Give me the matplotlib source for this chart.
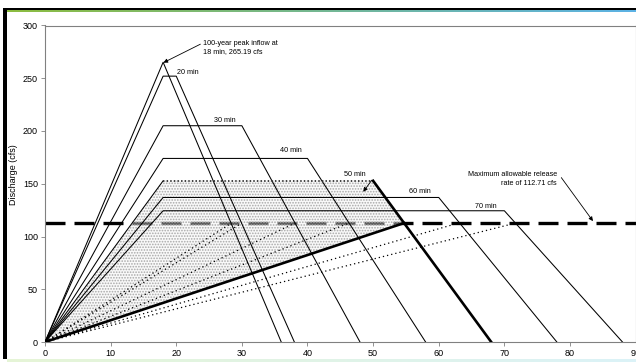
import matplotlib
matplotlib.use("Agg")
import matplotlib.pyplot as plt
import numpy as np
from matplotlib.patches import Rectangle, Polygon

plt.rcParams['font.family'] = ['Liberation Sans', 'DejaVu Sans']
plt.rcParams['hatch.linewidth'] = 0.8

# Storm hydrographs (rational method), time of concentration = 18 min
tc = 18.0
labels = ["inflow", "20 min", "30 min", "40 min", "50 min", "60 min", "70 min"]
durations = [18.0, 20.0, 30.0, 40.0, 50.0, 60.0, 70.0]
peaks = [265.19, 252.0, 205.0, 174.0, 152.8, 137.0, 124.4]
# Times at which each recession limb drops to the allowable release rate
release_times = [28.4, 30.0, 38.1, 46.3, 54.7, 63.0, 71.7]
release_rate = 112.71
critical = "50 min"

fig = plt.figure(figsize=(6.36, 3.62), dpi=100)
ax = fig.add_axes([45 / 636, 1 - 342 / 362, 590.6 / 636, 316.5 / 362])

# Allowable release rate
ax.plot([0, 90], [release_rate, release_rate], color='black', lw=2.4,
        linestyle=(0, (6.0, 2.7)), zorder=2, solid_capstyle='butt')

crit_idx = labels.index(critical)
for lab, d, q, tr in zip(labels, durations, peaks, release_times):
    xs = [0, tc, d, d + tc]
    ys = [0, q, q, 0]
    if lab == critical:
        ax.plot(xs[:2], ys[:2], color='black', lw=0.75, zorder=4)
        ax.plot(xs[1:3], ys[1:3], color='#333333', lw=1.3,
                linestyle=(0, (0.8, 1.2)), zorder=4)
        ax.plot(xs[2:], ys[2:], color='black', lw=1.9, zorder=5)
        ax.plot([0, tr], [0, release_rate], color='black', lw=1.9, zorder=5)
    else:
        ax.plot(xs, ys, color='black', lw=0.75, zorder=4)
        ax.plot([0, tr], [0, release_rate], color='black', lw=0.9,
                linestyle=(0, (1, 2.4)), zorder=4)

# Required storage volume for the critical storm
d_c, q_c, tr_c = durations[crit_idx], peaks[crit_idx], release_times[crit_idx]
storage = Polygon([(0, 0), (tc, q_c), (d_c, q_c), (tr_c, release_rate)],
                  closed=True, facecolor=(0.95, 0.95, 0.95, 0.4),
                  edgecolor='#a8a8a8', hatch='......', lw=0, zorder=3)
ax.add_patch(storage)

ax.set_xlim(0, 90)
ax.set_ylim(0, 300)
ax.set_xticks(np.arange(0, 91, 10))
ax.set_yticks(np.arange(0, 301, 50))
ax.tick_params(direction='out', length=3, width=0.6, color='#808080',
               labelsize=6.5, pad=2)
for s in ax.spines.values():
    s.set_color('#808080')
    s.set_linewidth(0.8)

fig.text(13 / 636, 1 - 175 / 362, "Discharge (cfs)", rotation=90,
         ha='center', va='center', fontsize=6.5)

arrow = dict(arrowstyle='-|>', lw=0.6, color='black', mutation_scale=6,
             shrinkA=0, shrinkB=0)

ax.annotate("100-year peak inflow at\n18 min, 265.19 cfs", xy=(18.05, 264.8),
            xytext=(24.1, 279.2), ha='left', va='center', fontsize=5.2,
            linespacing=1.3,
            arrowprops=dict(arrow, relpos=(0, 0.8)), zorder=6)

label_pos = {
    "20 min": (20.1, 255.6),
    "30 min": (25.8, 209.6),
    "40 min": (35.8, 181.1),
    "50 min": (45.5, 158.7),
    "60 min": (55.5, 142.4),
    "70 min": (65.5, 128.6),
}
for lab, (tx, ty) in label_pos.items():
    ax.text(tx, ty, lab, ha='left', va='center', fontsize=5.2, zorder=6)

ax.annotate("", xy=(48.5, 142.4), xytext=(49.8, 153.4),
            arrowprops=arrow, zorder=6)

ax.annotate("Maximum allowable release\nrate of 112.71 cfs", xy=(83.5, 114.6),
            xytext=(78.0, 154.3), ha='right', va='center', fontsize=5.2,
            linespacing=1.4, multialignment='right',
            arrowprops=dict(arrow, relpos=(1.05, 0.6)), zorder=6)

# Window frame around the chart
fig.patches.append(Rectangle((3 / 636, 3 / 362), 3.5 / 636, (354.5 - 3) / 362,
                             transform=fig.transFigure, color='black', lw=0))
fig.patches.append(Rectangle((3 / 636, 1 - 10.3 / 362), 633 / 636, 2.8 / 362,
                             transform=fig.transFigure, color='black', lw=0))
grad = np.linspace(0, 1, 256)
c0 = np.array([0.55, 0.74, 0.25])
c1 = np.array([0.36, 0.70, 0.90])
top_img = (c0[None, :] * (1 - grad[:, None]) + c1[None, :] * grad[:, None])[None, :, :]
gax = fig.add_axes([6.5 / 636, 1 - 12.5 / 362, 629.5 / 636, 2.2 / 362])
gax.imshow(top_img, aspect='auto', interpolation='bilinear')
gax.axis('off')
b0 = np.array([0.90, 0.96, 0.84])
b1 = np.array([0.86, 0.95, 0.97])
bot_img = (b0[None, :] * (1 - grad[:, None]) + b1[None, :] * grad[:, None])[None, :, :]
bax = fig.add_axes([6.5 / 636, 0, 629.5 / 636, 3 / 362])
bax.imshow(bot_img, aspect='auto', interpolation='bilinear')
bax.axis('off')

fig.savefig("out.png", dpi=100)
